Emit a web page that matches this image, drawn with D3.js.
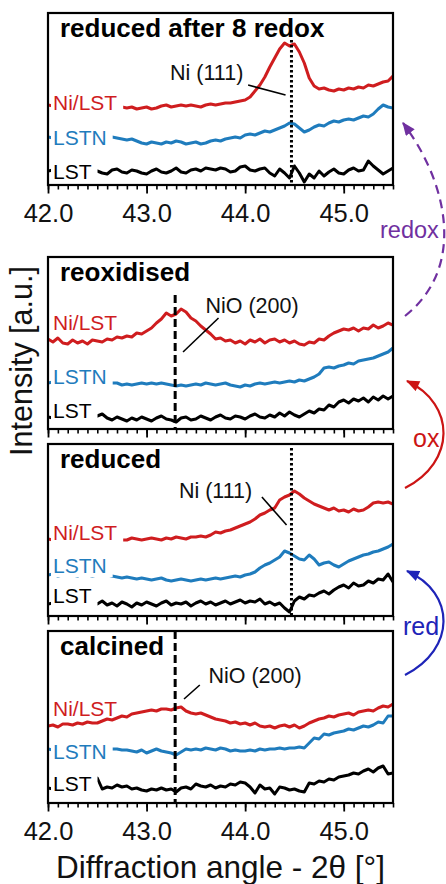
<!DOCTYPE html>
<html>
<head>
<meta charset="utf-8">
<script src="https://cdn.jsdelivr.net/npm/d3@7"></script>
<style>
  html, body { margin: 0; padding: 0; background: #fff; }
  svg { display: block; font-family: "Liberation Sans", Arial, Helvetica, sans-serif; }
</style>
</head>
<body>
<svg id="chart" width="446" height="884"></svg>
<script>
// 2θ grid shared by every pattern: 42.00 ... 45.50 in 0.05° steps
const twoTheta = d3.range(71).map(i => +(42 + i * 0.05).toFixed(2));

const seriesNames = ["Ni/LST", "LSTN", "LST"];
const panelTitles = ["reduced after 8 redox", "reoxidised", "reduced", "calcined"];
const majorTicks = [42, 43, 44, 45];
const tickLabels = ["42.0", "43.0", "44.0", "45.0"];
const minorTicks = d3.range(36).map(i => +(42 + i * 0.1).toFixed(1));

// Reflection positions (2θ)
const niO200 = 43.29;
const ni111 = 44.47;

// ---- reduced after 8 redox cycles ----
const after8_NiLST = [80,79,78,79,77,78,79,78,77,78,79,78,77,78,77,78,
  77,78,76,77,78,76,77,79,80,78,79,80,79,80,79,78,80,81,80,81,82,82,83,84,
  85,88,94,100,108,118,127,136,142,139,141,133,122,107,99,96,
  97,95,94,96,95,97,96,98,97,100,99,101,103,104,109];
const after8_LSTN = [48,47,49,48,47,48,49,47,48,47,48,49,47,48,
  47,46,45,46,44,42,41,43,42,41,43,42,44,43,41,42,43,41,42,44,45,44,46,47,48,47,
  50,51,50,52,54,53,55,57,59,62,61,57,53,55,58,60,59,62,64,63,65,66,65,67,69,68,71,76,80,78,77];
const after8_LST = [14,15,13,16,14,13,15,14,16,13,
  14,12,11,15,16,13,12,15,14,12,11,14,16,13,12,14,17,13,12,15,16,14,17,16,15,17,16,13,14,18,
  19,15,14,16,17,12,9,16,12,7,19,12,3,11,7,14,9,13,16,12,11,15,17,14,15,24,19,15,11,14,17];

// ---- reoxidised ----
const reox_NiLST = [90,87,91,86,85,89,86,88,85,89,88,87,90,89,92,91,93,92,96,95,
  98,101,106,110,116,113,115,120,117,111,108,103,99,95,90,91,88,89,86,88,
  85,89,87,90,86,89,90,87,89,86,88,85,84,87,86,90,89,93,96,98,100,99,101,98,101,100,104,101,103,106,104];
const reox_LSTN = [46,47,46,45,47,46,45,46,47,45,46,47,45,46,
  46,44,45,44,45,46,45,46,45,46,45,44,43,44,43,44,45,44,46,45,44,45,46,44,43,42,
  44,43,45,46,45,46,47,46,47,48,47,49,48,50,52,55,61,62,61,63,64,66,65,68,69,70,71,73,75,77,81];
const reox_LST = [12,11,13,12,10,12,13,11,12,10,
  13,15,11,9,12,10,8,11,9,12,10,8,11,13,10,9,7,11,12,9,10,13,11,9,12,14,11,10,13,12,
  10,13,15,12,11,14,12,16,13,17,14,12,15,18,16,20,19,24,22,27,29,26,30,28,31,27,32,29,33,30,33];

// ---- reduced ----
const red_NiLST = [77,76,78,77,76,77,78,76,77,76,78,77,76,77,75,76,
  76,78,77,76,77,78,77,76,78,77,79,78,77,79,79,80,79,81,84,83,85,86,88,90,
  92,94,97,101,103,106,108,116,119,121,125,122,118,115,112,110,108,106,108,105,106,104,107,105,106,109,113,114,113,114,112];
const red_LSTN = [41,42,40,41,42,41,40,42,41,40,41,42,41,40,
  39,38,39,38,37,38,37,36,37,38,36,35,36,37,36,35,36,37,36,37,38,37,38,39,40,39,
  41,42,44,48,51,53,56,59,65,63,60,57,56,61,57,51,53,54,51,49,52,55,57,59,61,62,64,65,67,69,72];
const red_LST = [12,13,11,12,14,12,11,13,12,14,
  12,15,11,13,10,14,12,9,13,11,14,12,10,13,15,11,13,12,14,10,13,15,12,14,11,13,15,12,14,16,
  13,15,14,17,12,14,11,13,8,4,15,19,17,21,20,23,25,22,26,29,31,28,33,30,31,35,33,37,36,42,34];

// ---- calcined ----
const calc_NiLST = [77,78,76,79,79,78,80,79,81,80,80,82,84,83,85,87,86,89,90,91,
  92,93,92,94,94,93,95,96,92,90,89,90,88,86,84,83,82,80,81,79,
  80,78,80,77,76,77,75,77,78,76,78,75,77,80,82,84,85,87,86,88,89,90,88,91,92,93,92,95,97,96,99];
const calc_LSTN = [54,53,55,54,53,54,55,53,54,55,53,54,55,54,
  54,53,53,52,51,53,50,52,54,52,51,50,48,51,54,53,54,53,55,54,53,55,54,52,53,52,
  52,53,52,54,53,54,54,55,54,55,55,56,55,60,65,64,69,68,70,71,72,74,73,75,77,76,78,81,80,87,87];
const calc_LST = [15,14,16,15,14,16,15,14,16,15,
  25,14,16,15,18,16,17,14,15,13,12,14,13,15,13,14,11,15,16,14,19,17,16,18,15,17,16,19,18,21,
  20,16,10,18,14,15,9,16,15,13,14,12,11,20,19,22,21,24,23,26,27,28,30,29,32,34,31,35,37,29,30];

// ---- layout & styling ----
const colors = { red: "#cf1d1f", blue: "#1f7cbd", black: "#000" };
const seriesColors = [colors.red, colors.blue, colors.black];
const panelH = 172;
const x = d3.scaleLinear().domain([42, 45.5]).range([48, 393]);
const y = d3.scaleLinear().domain([0, panelH]).range([panelH, 0]);

const panels = [
  { title: panelTitles[0], top: 13, series: [after8_NiLST, after8_LSTN, after8_LST],
    labelAt: [83, 48, 14], boxed: [true, true, true],
    ref: { x: ni111, from: 145, style: "dot" },
    note: { text: "Ni (111)", tx: 43.61, ty: 113, l: [44.03, 100, 44.41, 90] },
    tickText: true },
  { title: panelTitles[1], top: 257, series: [reox_NiLST, reox_LSTN, reox_LST],
    labelAt: [107, 53, 19], boxed: [false, true, true],
    ref: { x: niO200, from: 134, style: "dash" },
    note: { text: "NiO (200)", tx: 44.07, ty: 124, l: [43.73, 111, 43.37, 77] },
    tickText: false },
  { title: panelTitles[2], top: 444, series: [red_NiLST, red_LSTN, red_LST],
    labelAt: [84, 51, 21], boxed: [true, true, true],
    ref: { x: ni111, from: 168, style: "dot" },
    note: { text: "Ni (111)", tx: 43.70, ty: 126, l: [44.17, 119, 44.42, 91] },
    tickText: false },
  { title: panelTitles[3], top: 631, series: [calc_NiLST, calc_LSTN, calc_LST],
    labelAt: [95, 52, 20], boxed: [false, true, true],
    ref: { x: niO200, from: 172, style: "dash" },
    note: { text: "NiO (200)", tx: 44.10, ty: 128, l: [43.54, 118, 43.38, 104] },
    tickText: true }
];

const svg = d3.select("#chart");
const defs = svg.append("defs");

defs.append("clipPath").attr("id", "plotClip")
  .append("rect").attr("x", x(42)).attr("y", 0)
  .attr("width", x(45.5) - x(42)).attr("height", panelH);

const line = d3.line().x((d, i) => x(twoTheta[i])).y(d => y(d));

panels.forEach(p => {
  const g = svg.append("g").attr("transform", `translate(0,${p.top})`);
  const plot = g.append("g").attr("clip-path", "url(#plotClip)");

  // diffraction patterns
  p.series.forEach((vals, k) => {
    plot.append("path").datum(vals)
      .attr("d", line)
      .attr("fill", "none")
      .attr("stroke", seriesColors[k])
      .attr("stroke-width", 3)
      .attr("stroke-linejoin", "round");
  });

  // sample labels (white backing hides the start of the trace)
  p.series.forEach((vals, k) => {
    const ly = y(p.labelAt[k]);
    const t = g.append("text")
      .attr("x", 53).attr("y", ly)
      .attr("dy", "0.36em")
      .attr("font-size", 21)
      .attr("fill", seriesColors[k])
      .text(seriesNames[k]);
    if (p.boxed[k]) {
      const w = t.node().getComputedTextLength();
      g.insert("rect", () => t.node())
        .attr("x", 51).attr("y", ly - 12)
        .attr("width", w + 8).attr("height", 24)
        .attr("fill", "#fff");
    }
  });

  // reflection marker
  g.append("line")
    .attr("x1", x(p.ref.x)).attr("x2", x(p.ref.x))
    .attr("y1", y(p.ref.from)).attr("y2", y(0))
    .attr("stroke", "#000")
    .attr("stroke-width", 3)
    .attr("stroke-dasharray", p.ref.style === "dot" ? "2.6,2.4" : "8,4");

  // reflection annotation
  g.append("text")
    .attr("x", x(p.note.tx)).attr("y", y(p.note.ty))
    .attr("dy", "0.36em")
    .attr("text-anchor", "middle")
    .attr("font-size", 21.5)
    .attr("fill", "#111")
    .text(p.note.text);
  g.append("line")
    .attr("x1", x(p.note.l[0])).attr("y1", y(p.note.l[1]))
    .attr("x2", x(p.note.l[2])).attr("y2", y(p.note.l[3]))
    .attr("stroke", "#000").attr("stroke-width", 1.6);

  // panel title
  g.append("text")
    .attr("x", 60).attr("y", 24)
    .attr("font-size", 26)
    .attr("font-weight", "bold")
    .attr("fill", "#000")
    .text(p.title);

  // frame
  g.append("rect")
    .attr("x", x(42)).attr("y", 0)
    .attr("width", x(45.5) - x(42)).attr("height", panelH)
    .attr("fill", "none").attr("stroke", "#000").attr("stroke-width", 2.2);

  // minor ticks
  const minorAxis = g.append("g")
    .attr("transform", `translate(0,${panelH})`)
    .call(d3.axisBottom(x).tickValues(minorTicks).tickSize(4.5).tickFormat(""));
  minorAxis.select(".domain").remove();
  minorAxis.selectAll(".tick line").attr("stroke-width", 1.6);

  // major ticks (+ labels on outer panels)
  const majorAxis = g.append("g")
    .attr("transform", `translate(0,${panelH})`)
    .call(d3.axisBottom(x).tickValues(majorTicks).tickSize(8.5).tickPadding(10)
      .tickFormat((d, i) => p.tickText ? tickLabels[i] : ""));
  majorAxis.select(".domain").remove();
  majorAxis.selectAll(".tick line").attr("stroke-width", 1.8);
  majorAxis.selectAll(".tick text")
    .attr("font-size", 25.5)
    .attr("font-family", "Liberation Sans, Arial, sans-serif")
    .attr("fill", "#111");
});

// axis titles
svg.append("text")
  .attr("x", (x(42) + x(45.5)) / 2).attr("y", 878)
  .attr("text-anchor", "middle")
  .attr("font-size", 31.5)
  .attr("fill", "#111")
  .text("Diffraction angle - 2θ [°]");

svg.append("text")
  .attr("transform", "translate(32,361) rotate(-90)")
  .attr("text-anchor", "middle")
  .attr("font-size", 30.5)
  .attr("fill", "#111")
  .text("Intensity [a.u.]");

// process arrows between panels
const arrowDefs = [
  { id: "headPurple", color: "#7030a0" },
  { id: "headRed", color: "#cc1414" },
  { id: "headBlue", color: "#1e24b8" }
];
arrowDefs.forEach(a => {
  defs.append("marker")
    .attr("id", a.id)
    .attr("viewBox", "0 0 12 10")
    .attr("refX", 11).attr("refY", 5)
    .attr("markerWidth", 14).attr("markerHeight", 11)
    .attr("markerUnits", "userSpaceOnUse")
    .attr("orient", "auto")
    .append("path").attr("d", "M0,0 L12,5 L0,10 Z").attr("fill", a.color);
});

const steps = [
  { label: "redox", color: "#7030a0", marker: "headPurple", dash: "9,6",
    pts: [[405, 316], [468, 266], [446, 180], [403, 123]], lx: 380, ly: 238, fs: 23.5 },
  { label: "ox", color: "#cc1414", marker: "headRed", dash: null,
    pts: [[405, 488], [456, 462], [456, 404], [407, 381]], lx: 413, ly: 447, fs: 25 },
  { label: "red", color: "#1e24b8", marker: "headBlue", dash: null,
    pts: [[405, 675], [456, 649], [456, 593], [407, 571]], lx: 403, ly: 635, fs: 25 }
];
steps.forEach(s => {
  const path = d3.path();
  path.moveTo(...s.pts[0]);
  path.bezierCurveTo(...s.pts[1], ...s.pts[2], ...s.pts[3]);
  svg.append("path")
    .attr("d", path.toString())
    .attr("fill", "none")
    .attr("stroke", s.color)
    .attr("stroke-width", 2.2)
    .attr("stroke-dasharray", s.dash)
    .attr("marker-end", `url(#${s.marker})`);
  svg.append("text")
    .attr("x", s.lx).attr("y", s.ly)
    .attr("font-size", s.fs)
    .attr("fill", s.color)
    .text(s.label);
});
</script>
</body>
</html>
